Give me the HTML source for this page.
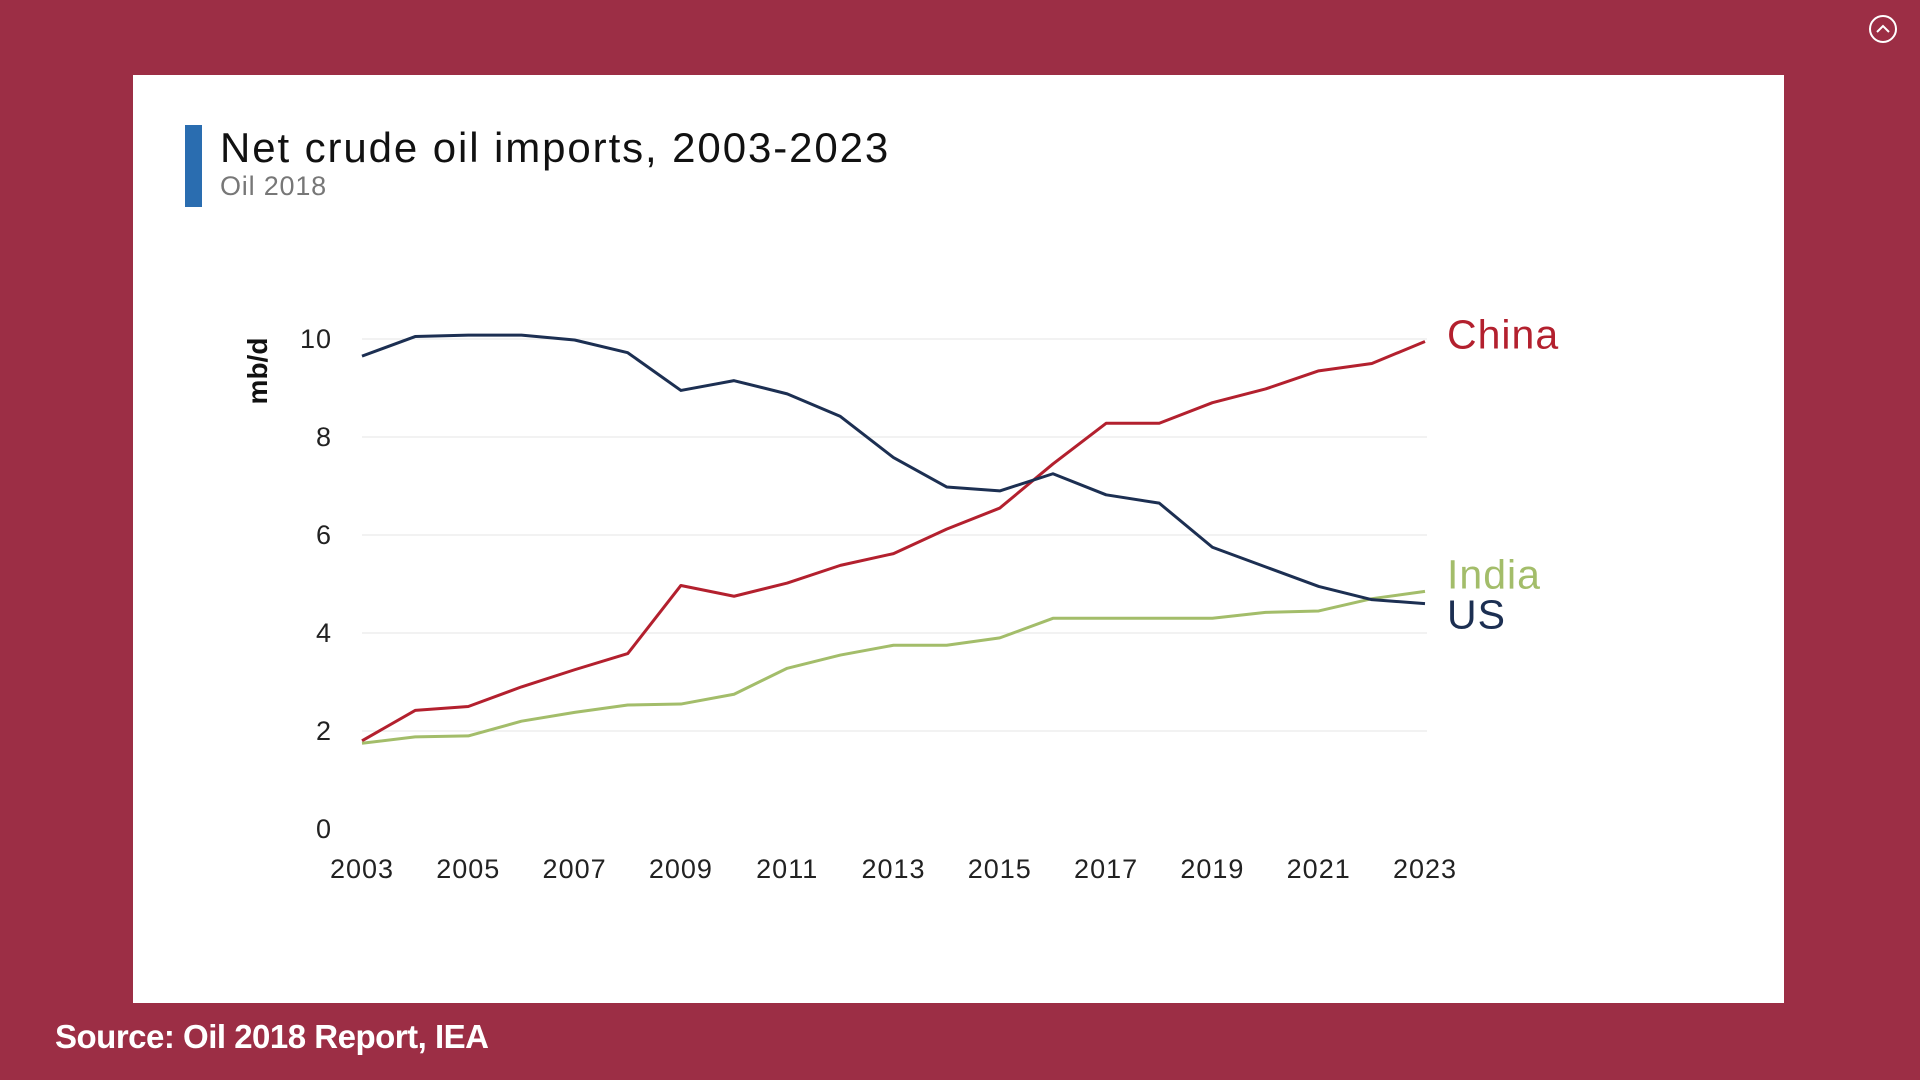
<!DOCTYPE html>
<html><head><meta charset="utf-8"><style>
body{margin:0;width:1920px;height:1080px;background:#9c2e45;overflow:hidden;font-family:"Liberation Sans",sans-serif;position:relative}
#panel{position:absolute;left:133px;top:75px;width:1651px;height:928px;background:#fff}
#src{position:absolute;left:55px;top:1018px;color:#fff;font-weight:bold;font-size:33px;letter-spacing:-0.5px}
</style></head><body>
<div id="panel"></div>
<div id="src">Source: Oil 2018 Report, IEA</div>
<svg width="1920" height="1080" style="position:absolute;left:0;top:0">
<circle cx="1883" cy="29" r="13" fill="none" stroke="#fff" stroke-width="2"/>
<path d="M1877 32 L1883 26 L1889 32" fill="none" stroke="#fff" stroke-width="2"/>
<rect x="185" y="125" width="17" height="82" fill="#2a6db0"/>
<text x="220" y="162" font-size="42" letter-spacing="1.9" fill="#111">Net crude oil imports, 2003-2023</text>
<text x="220" y="195" font-size="27" letter-spacing="0.8" fill="#777">Oil 2018</text>
<text transform="translate(267,371) rotate(-90)" text-anchor="middle" font-size="28" font-weight="bold" fill="#111">mb/d</text>
<g id="g"></g>
</svg>
<script>
const years=[2003,2004,2005,2006,2007,2008,2009,2010,2011,2012,2013,2014,2015,2016,2017,2018,2019,2020,2021,2022,2023];
const usVals=[9.65,10.05,10.08,10.08,9.98,9.72,8.95,9.15,8.88,8.42,7.58,6.98,6.9,7.25,6.82,6.65,5.75,5.35,4.95,4.68,4.6];
const chinaVals=[1.8,2.42,2.5,2.9,3.25,3.58,4.97,4.75,5.02,5.38,5.62,6.12,6.55,7.45,8.28,8.28,8.7,8.98,9.35,9.5,9.95];
const indiaVals=[1.75,1.88,1.9,2.2,2.38,2.53,2.55,2.75,3.28,3.55,3.75,3.75,3.9,4.3,4.3,4.3,4.3,4.42,4.45,4.7,4.85];
const yTicks=[0,2,4,6,8,10];
const xTicks=[2003,2005,2007,2009,2011,2013,2015,2017,2019,2021,2023];
const X=y=>362+(y-2003)*(1425-362)/20;
const Y=v=>829-v*49;
const g=document.getElementById('g');const NS='http://www.w3.org/2000/svg';
function mk(t,a){const e=document.createElementNS(NS,t);for(const k in a)e.setAttribute(k,a[k]);g.appendChild(e);return e;}
yTicks.forEach(v=>{
 if(v>0){const l=mk('line',{x1:362,x2:1427,y1:Y(v),y2:Y(v),stroke:'#e6e6e6','stroke-width':1});
 
 }
 const t=mk('text',{x:332,y:Y(v)+9,'text-anchor':'end','font-size':27,'letter-spacing':1,fill:'#222'});t.textContent=v;
 
 
});
xTicks.forEach(yr=>{const t=mk('text',{x:X(yr),y:878,'text-anchor':'middle','font-size':27,'letter-spacing':1,fill:'#222'});t.textContent=yr;
 
 });
const series=[['china',chinaVals,'#b3202e','China',-7],['india',indiaVals,'#a3bd6a','India',-17],['us',usVals,'#1c2f52','US',11]];
series.forEach(([id,vals,c,lab,dy])=>{
 const p=mk('polyline',{points:vals.map((v,i)=>X(years[i])+','+Y(v)).join(' '),fill:'none',stroke:c,'stroke-width':3,'stroke-linejoin':'round'});
 
 
 const t=mk('text',{x:1447,y:Y(vals[vals.length-1])+14+dy,'font-size':41,'letter-spacing':1,fill:c});t.textContent=lab;
 
 
});
</script>
</body></html>
